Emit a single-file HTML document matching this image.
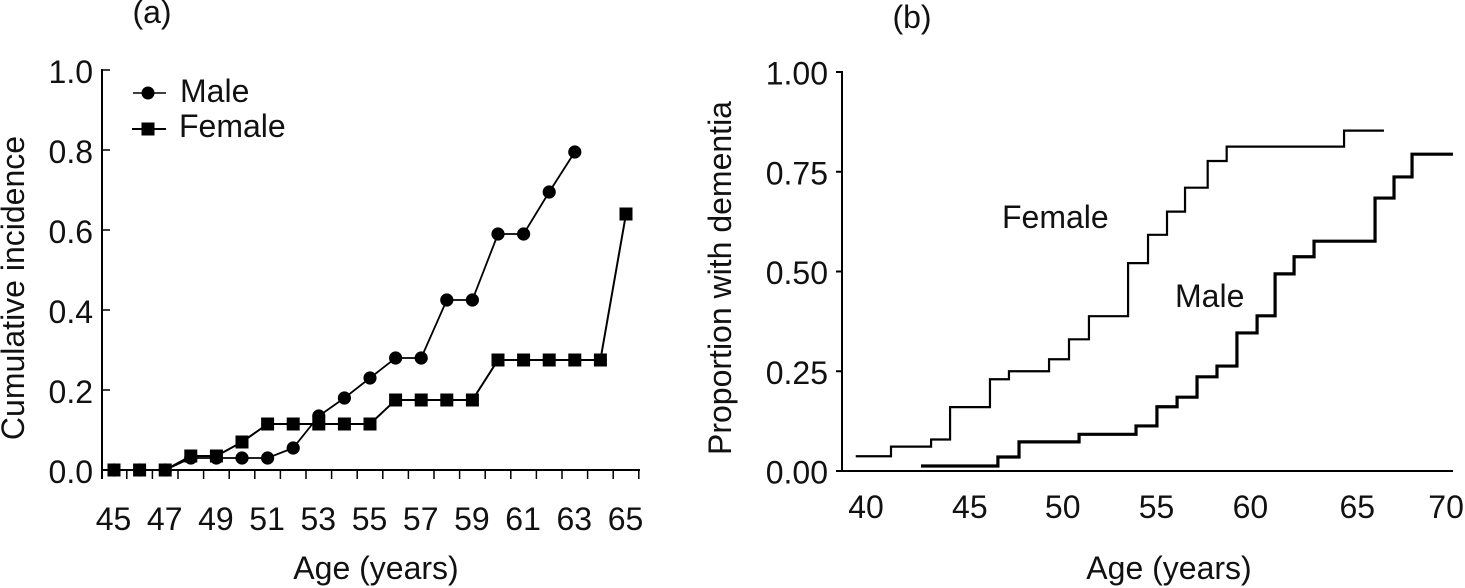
<!DOCTYPE html>
<html>
<head>
<meta charset="utf-8">
<title>Cumulative incidence and proportion with dementia by age</title>
<style>
html,body{margin:0;padding:0;background:#fff;width:1465px;height:588px;overflow:hidden}
svg{display:block}
text{font-family:"Liberation Sans",sans-serif;font-size:32px;fill:#111}
</style>
</head>
<body>
<svg id="chart" xmlns="http://www.w3.org/2000/svg" width="1465" height="588" viewBox="0 0 1465 588">
  <rect x="0" y="0" width="1465" height="588" fill="#fff"/>
  <text x="152" y="23" text-anchor="middle">(a)</text>
  <text x="912" y="28" text-anchor="middle">(b)</text>
  <text transform="translate(24,288) rotate(-90)" text-anchor="middle">Cumulative incidence</text>
  <text x="376" y="579" text-anchor="middle">Age (years)</text>
  <text transform="translate(731,278) rotate(-90)" text-anchor="middle">Proportion with dementia</text>
  <text x="1169" y="579" text-anchor="middle">Age (years)</text>
  <g>
    <line x1="133" y1="93" x2="166" y2="93" stroke="#000" stroke-width="1.5"/>
    <circle cx="148" cy="93" r="6.5" fill="#000"/>
    <text x="180" y="102">Male</text>
    <line x1="132" y1="129" x2="166" y2="129" stroke="#000" stroke-width="2"/>
    <rect x="141.5" y="122.5" width="13" height="13" fill="#000"/>
    <text x="179" y="137">Female</text>
  </g>
  <text x="1002" y="228">Female</text>
  <text x="1175" y="307">Male</text>
  <g id="panel-a"></g>
  <g id="panel-b"></g>
</svg>
<script>
// Panel (a) data
const ageCategories = [45,46,47,48,49,50,51,52,53,54,55,56,57,58,59,60,61,62,63,64,65];
const maleIncidence = [0,0,0,0.03,0.03,0.03,0.03,0.055,0.135,0.18,0.23,0.28,0.28,0.425,0.425,0.59,0.59,0.695,0.795];
const femaleIncidence = [0,0,0,0.035,0.035,0.07,0.115,0.115,0.115,0.115,0.115,0.175,0.175,0.175,0.175,0.275,0.275,0.275,0.275,0.275,0.64];
const incidenceTicks = ["0.0","0.2","0.4","0.6","0.8","1.0"];
const ageLabelsA = [45,47,49,51,53,55,57,59,61,63,65];

// Panel (b) data: step-change ages and the proportion after each step
const femaleStepAges = [39.47,41.29,43.36,44.34,46.40,47.38,49.45,50.48,51.51,53.53,54.56,55.54,56.47,57.64,58.62,64.68,66.74];
const femaleStepValues = [0.037,0.061,0.079,0.16,0.23,0.25,0.28,0.33,0.388,0.521,0.592,0.65,0.71,0.777,0.813,0.853,0.853];
const maleStepAges = [42.84,46.81,47.90,51.00,53.94,55.02,56.06,57.09,58.12,59.15,60.19,61.12,62.10,63.13,66.28,67.26,68.19,70.30];
const maleStepValues = [0.0125,0.035,0.073,0.092,0.113,0.161,0.185,0.236,0.263,0.346,0.389,0.494,0.537,0.576,0.684,0.737,0.794,0.794];
const proportionTicks = ["0.00","0.25","0.50","0.75","1.00"];
const ageLabelsB = [40,45,50,55,60,65,70];

const NS = "http://www.w3.org/2000/svg";
function make(parent, tag, attrs, txt) {
  const el = document.createElementNS(NS, tag);
  for (const k in attrs) el.setAttribute(k, attrs[k]);
  if (txt !== undefined) el.textContent = txt;
  parent.appendChild(el);
  return el;
}

// Panel (a) axis functions
const ax = a => 114 + (a - 45) * 25.6;
const ay = v => 470 - v * 400;
const pa = document.getElementById("panel-a");

let el = make(pa, "line", {x1:102,y1:ay(1)-1,x2:102,y2:479,stroke:"#000","stroke-width":2});


el = make(pa, "line", {x1:101,y1:470,x2:ax(65)+14,y2:470,stroke:"#000","stroke-width":2});



incidenceTicks.forEach(t => {
  const y = ay(parseFloat(t));
  let m = make(pa, "line", {x1:102,y1:y,x2:110,y2:y,stroke:"#000","stroke-width":1.5});
  
  
  m = make(pa, "text", {x:93,y:y+13,"text-anchor":"end"}, t);
  
  
});
ageCategories.forEach(a => {
  const x = ax(a) + 12.8;
  const m = make(pa, "line", {x1:x,y1:470,x2:x,y2:479,stroke:"#000","stroke-width":1.5});
  
  
});
ageLabelsA.forEach(a => {
  const m = make(pa, "text", {x:ax(a)-0.5,y:530,"text-anchor":"middle"}, String(a));
  
  
});

const malePts = maleIncidence.map((v, i) => ax(ageCategories[i]) + "," + ay(v)).join(" ");
el = make(pa, "polyline", {points:malePts,fill:"none",stroke:"#000","stroke-width":1.8});


const femalePts = femaleIncidence.map((v, i) => ax(ageCategories[i]) + "," + ay(v)).join(" ");
el = make(pa, "polyline", {points:femalePts,fill:"none",stroke:"#000","stroke-width":2});



maleIncidence.forEach((v, i) => {
  const m = make(pa, "circle", {cx:ax(ageCategories[i]),cy:ay(v),r:6.6,fill:"#000"});
  
  
});
femaleIncidence.forEach((v, i) => {
  const m = make(pa, "rect", {x:ax(ageCategories[i])-6.5,y:ay(v)-6.5,width:13,height:13,fill:"#000"});
  
  
});

// Panel (b) axis functions
const bx = a => 866 + (a - 40) * 19.37;
const by = v => 471 - v * 399;
const pb = document.getElementById("panel-b");

el = make(pb, "line", {x1:842,y1:by(1)-1,x2:842,y2:472,stroke:"#000","stroke-width":2});


el = make(pb, "line", {x1:836,y1:471,x2:1453,y2:471,stroke:"#000","stroke-width":2});



proportionTicks.forEach(t => {
  const y = by(parseFloat(t));
  let m = make(pb, "line", {x1:836,y1:y,x2:842,y2:y,stroke:"#000","stroke-width":2});
  
  
  m = make(pb, "text", {x:828,y:y+12.5,"text-anchor":"end"}, t);
  
  
});
// The reference spaces these labels slightly unevenly, so each gets a small offset.
function labelNudgeB(a) {
  if (a === 45) return 7;
  if (a === 50) return 3;
  if (a === 60) return -3;
  if (a === 65) return 7;
  if (a === 70) return -1;
  return 0;
}
ageLabelsB.forEach(a => {
  const m = make(pb, "text", {x:bx(a)+labelNudgeB(a),y:518,"text-anchor":"middle"}, String(a));
  
  
});

function stepPath(ages, vals) {
  let d = "M" + bx(ages[0]) + " " + by(vals[0]);
  for (let i = 1; i < ages.length; i++) {
    d += "H" + bx(ages[i]) + "V" + by(vals[i]);
  }
  return d;
}
el = make(pb, "path", {d:stepPath(femaleStepAges, femaleStepValues),fill:"none",stroke:"#000","stroke-width":2.2});


el = make(pb, "path", {d:stepPath(maleStepAges, maleStepValues),fill:"none",stroke:"#000","stroke-width":3.2});


</script>
</body>
</html>
